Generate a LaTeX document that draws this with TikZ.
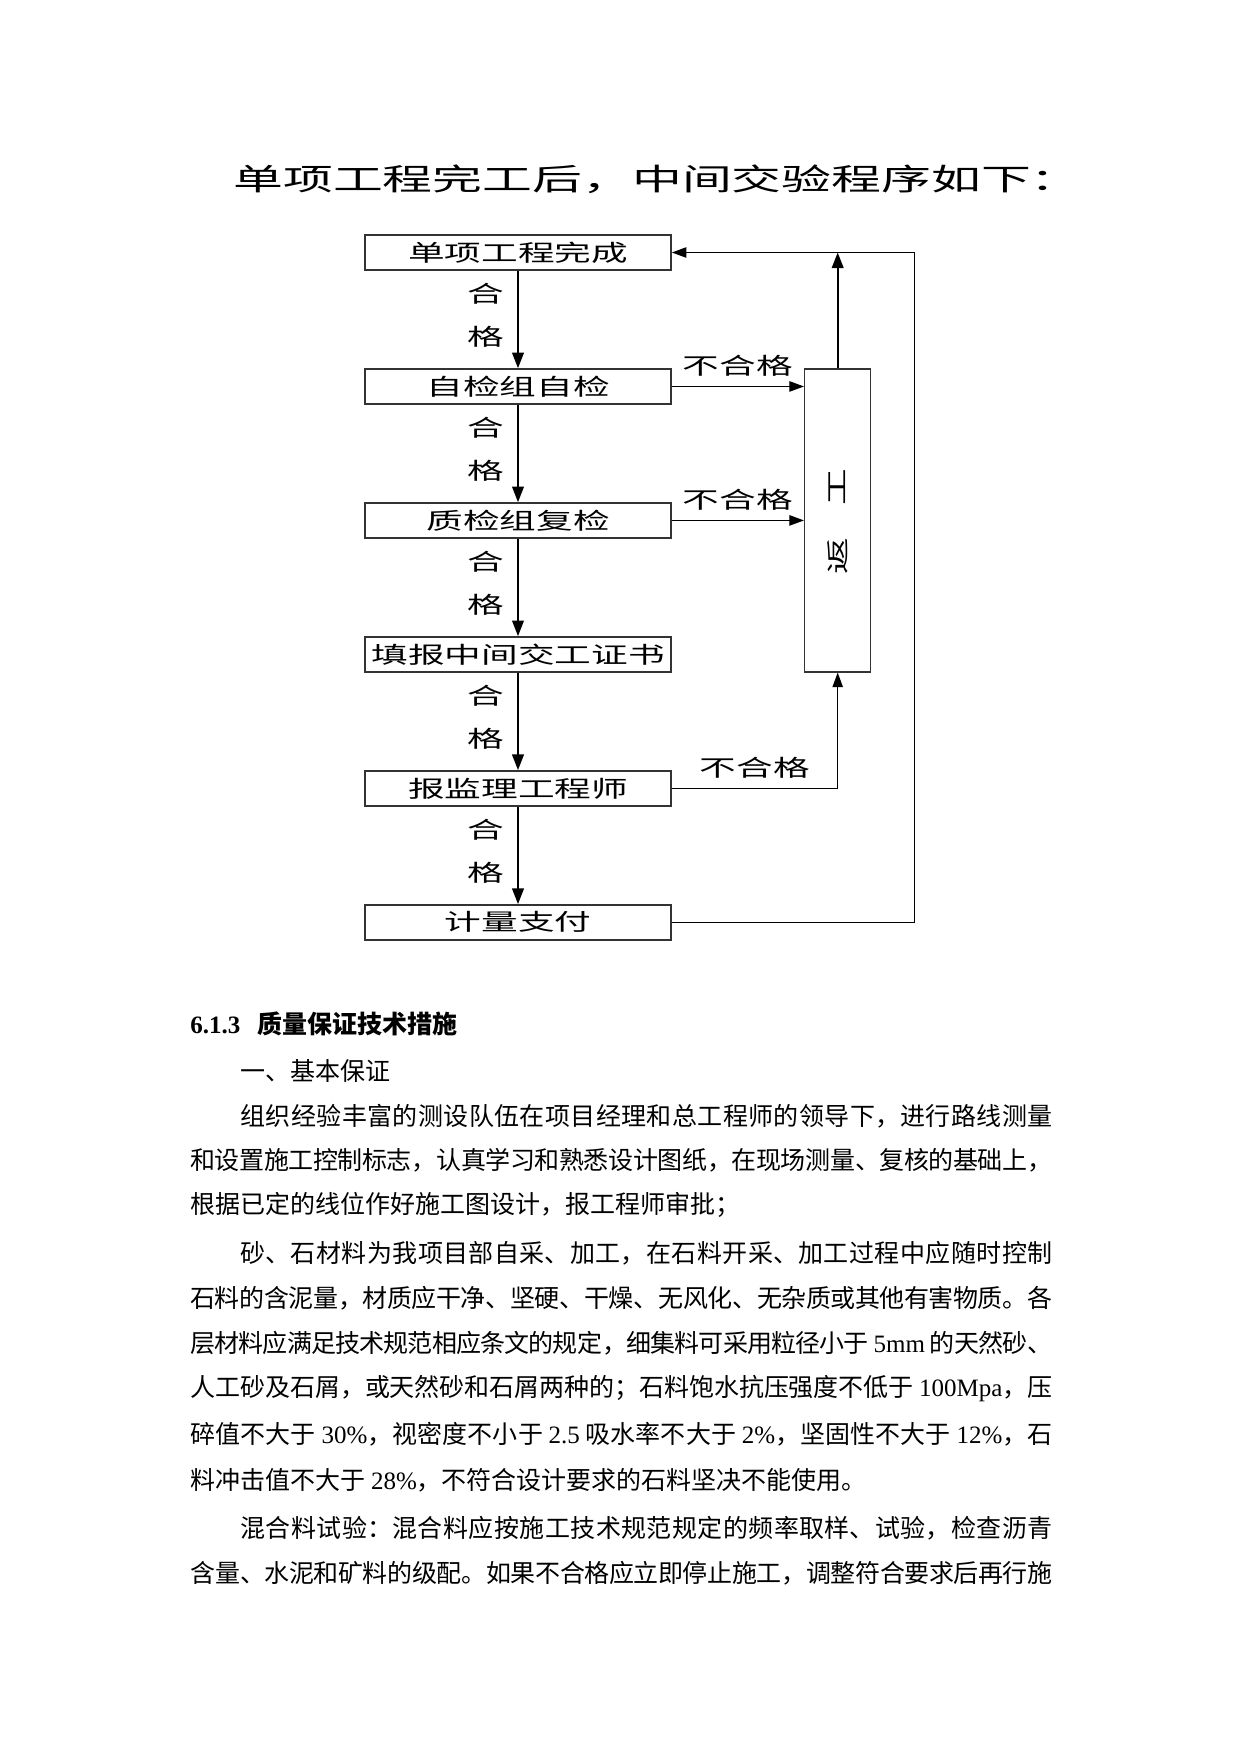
\documentclass[tikz,border=0pt]{standalone}
\usepackage{fontspec}
\setmainfont{Liberation Serif}
\newfontfamily\cjk{Noto Sans CJK SC}
\newfontfamily\cjkwide[FakeStretch=1.6]{Noto Sans CJK SC}
\newfontfamily\cjktitle[FakeStretch=1.65]{Noto Sans CJK SC}
\newfontfamily\lat{Liberation Serif}
\usetikzlibrary{arrows.meta,positioning}
\newcommand{\en}[1]{{\lat #1}}
\newcommand{\flowfont}{\cjkwide\fontsize{11pt}{12pt}\selectfont}
\newcommand{\titlefont}{\cjktitle\fontsize{14.5pt}{16pt}\selectfont}
\newcommand{\bodyset}{\cjk\fontsize{12pt}{20pt}\selectfont
  \XeTeXlinebreaklocale "zh"\XeTeXlinebreakskip=0pt plus 2pt minus 1pt\noindent}
\newcommand{\jline}[1]{\parbox{413.8pt}{\bodyset\parfillskip=0pt #1}}
\newcommand{\rline}[1]{\parbox{413.8pt}{\bodyset #1}}

\begin{document}
\begin{tikzpicture}[x=0.48pt, y=-0.48pt,
  every node/.style={inner sep=0pt},
  stage/.style={draw=black!80, line width=0.7pt, minimum width=147pt, minimum height=16.8pt, font=\flowfont},
  rework/.style={draw=black!80, line width=0.7pt, minimum width=31.7pt, minimum height=145.4pt},
  lbl/.style={font=\flowfont},
  arr/.style={-{Triangle[length=7.5pt,width=5.6pt]}, line width=0.9pt},
  thinarr/.style={-{Triangle[length=7pt,width=5pt]}, line width=0.6pt},
  bodytext/.style={anchor=west}
]
\useasboundingbox (0,0) rectangle (1241,1754);
% title
\node[font=\titlefont, anchor=west] (title) at (233,179) {单项工程完工后，中间交验程序如下：};
% the stages
\node[stage] (b1) at (518,252.5) {单项工程完成};
\node[stage, below=46.8pt of b1] (b2) {自检组自检};
\node[stage, below=46.8pt of b2] (b3) {质检组复检};
\node[stage, below=46.8pt of b3] (b4) {填报中间交工证书};
\node[stage, below=46.8pt of b4] (b5) {报监理工程师};
\node[stage, below=46.8pt of b5] (b6) {计量支付};
\foreach \a/\b in {b1/b2,b2/b3,b3/b4,b4/b5,b5/b6}
  \draw[arr] (\a) -- (\b) node[lbl, pos=.24, xshift=-15.4pt] {合} node[lbl, pos=.68, xshift=-15.4pt] {格};
% rework box
\node[rework, anchor=north west] (rw) at ([xshift=63.4pt]b2.north east) {};
\node[lbl, rotate=90] (rw1) at ([yshift=16pt]rw.center) {工};
\node[lbl, rotate=90] (rw2) at ([yshift=-17pt]rw.center) {返};
\draw[thinarr] (b2.east) -- (b2.east -| rw.west) node[lbl, midway, yshift=10pt] {不合格};
\draw[thinarr] (b3.east) -- (b3.east -| rw.west) node[lbl, midway, yshift=10pt] {不合格};
\draw[thinarr] (b5.east) -- (b5.east -| rw.south) node[lbl, midway, yshift=10pt] {不合格} -- (rw.south);
\draw[arr] (rw.north) -- (rw.north |- b1.east);
\coordinate[xshift=116.6pt] (loopc) at (b6.east);
\draw[thinarr] (b6.east) -- (loopc) |- (b1.east);
% text below
\node[bodytext] (h613) at (190,1024) {\rline{{\lat\bfseries 6.1.3}\hspace{0.7em}{\bfseries 质量保证技术措施}}};
\node[bodytext] (p0) at (190,1071) {\rline{\hspace*{2em}一、基本保证}};
\node[bodytext] (p1) at (190,1116) {\jline{\hspace*{2em}组织经验丰富的测设队伍在项目经理和总工程师的领导下，进行路线测量}};
\node[bodytext] (p2) at (190,1160) {\jline{和设置施工控制标志，认真学习和熟悉设计图纸，在现场测量、复核的基础上，}};
\node[bodytext] (p3) at (190,1205) {\rline{根据已定的线位作好施工图设计，报工程师审批；}};
\node[bodytext] (p4) at (190,1253) {\jline{\hspace*{2em}砂、石材料为我项目部自采、加工，在石料开采、加工过程中应随时控制}};
\node[bodytext] (p5) at (190,1298) {\jline{石料的含泥量，材质应干净、坚硬、干燥、无风化、无杂质或其他有害物质。各}};
\node[bodytext] (p6) at (190,1343) {\jline{层材料应满足技术规范相应条文的规定，细集料可采用粒径小于 \en{5mm} 的天然砂、}};
\node[bodytext] (p7) at (190,1389) {\jline{人工砂及石屑，或天然砂和石屑两种的；石料饱水抗压强度不低于 \en{100Mpa}，压}};
\node[bodytext] (p8) at (190,1434) {\jline{碎值不大于 \en{30\%}，视密度不小于 \en{2.5} 吸水率不大于 \en{2\%}，坚固性不大于 \en{12\%}，石}};
\node[bodytext] (p9) at (190,1480) {\rline{料冲击值不大于 \en{28\%}，不符合设计要求的石料坚决不能使用。}};
\node[bodytext] (p10) at (190,1528) {\jline{\hspace*{2em}混合料试验：混合料应按施工技术规范规定的频率取样、试验，检查沥青}};
\node[bodytext] (p11) at (190,1573) {\jline{含量、水泥和矿料的级配。如果不合格应立即停止施工，调整符合要求后再行施}};
\end{tikzpicture}
\end{document}
